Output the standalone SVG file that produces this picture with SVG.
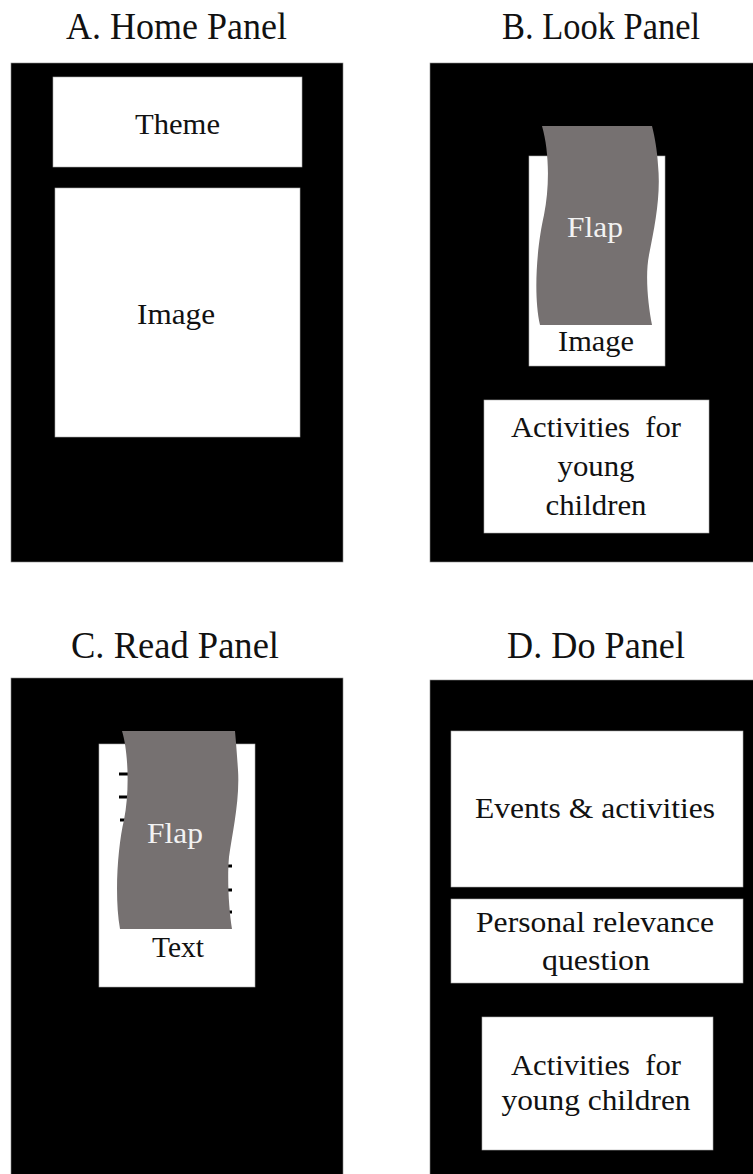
<svg xmlns="http://www.w3.org/2000/svg" width="753" height="1174" viewBox="0 0 753 1174" font-family="Liberation Serif, Times New Roman, serif">
<style>
.title{font-size:37px;fill:#111;text-anchor:middle}
.lbl{font-size:29px;fill:#111;text-anchor:middle}
.flaptxt{font-size:30px;fill:#f2f2f2;text-anchor:middle}
.panel{fill:#000;stroke:#888;stroke-width:0.6}
.box{fill:#fff;stroke:#aaa;stroke-width:0.6}
.flap{fill:#767171}
.tick{stroke:#000;stroke-width:3}
</style>
<rect width="753" height="1174" fill="#fff"/>

<g id="panelA">
<text class="title" x="176.5" y="39" textLength="221" lengthAdjust="spacingAndGlyphs">A. Home Panel</text>
<rect class="panel" x="11" y="63" width="332" height="499"/>
<g id="A-theme"><rect class="box" x="53" y="77" width="249" height="90"/><text class="lbl" x="177.5" y="134" textLength="85" lengthAdjust="spacingAndGlyphs">Theme</text></g>
<g id="A-image"><rect class="box" x="55" y="188" width="245" height="249"/><text class="lbl" x="176" y="324" textLength="78" lengthAdjust="spacingAndGlyphs">Image</text></g>
</g>

<g id="panelB">
<text class="title" x="601" y="39" textLength="198" lengthAdjust="spacingAndGlyphs">B. Look Panel</text>
<rect class="panel" x="430" y="63" width="325" height="499"/>
<g id="B-image"><rect class="box" x="529" y="156" width="136" height="210"/><text class="lbl" x="596" y="351" textLength="76" lengthAdjust="spacingAndGlyphs">Image</text></g>
<g id="B-flap"><path class="flap" d="M542,126 C549,150 550,185 544,215 C537,245 533,295 540,325 L652,325 C648,305 645,275 649,255 C655,225 661,195 658,165 C657,150 655,138 652,126 Z"/><text class="flaptxt" x="595" y="237" textLength="56" lengthAdjust="spacingAndGlyphs">Flap</text></g>
<g id="B-activities"><rect class="box" x="484" y="400" width="225" height="133"/>
<text class="lbl" x="596" y="437" xml:space="preserve" textLength="170" lengthAdjust="spacingAndGlyphs">Activities  for</text>
<text class="lbl" x="596" y="476" textLength="77" lengthAdjust="spacingAndGlyphs">young</text>
<text class="lbl" x="596" y="515" textLength="101" lengthAdjust="spacingAndGlyphs">children</text></g>
</g>

<g id="panelC">
<text class="title" x="175" y="658" textLength="208" lengthAdjust="spacingAndGlyphs">C. Read Panel</text>
<rect class="panel" x="11" y="678" width="332" height="500"/>
<g id="C-text"><rect class="box" x="99" y="744" width="156" height="243"/>
<line class="tick" x1="119" y1="774" x2="132" y2="774"/>
<line class="tick" x1="119" y1="797" x2="132" y2="797"/>
<line class="tick" x1="120" y1="820" x2="132" y2="820"/>
<line class="tick" x1="218" y1="866" x2="232" y2="866"/>
<line class="tick" x1="218" y1="890" x2="232" y2="890"/>
<line class="tick" x1="218" y1="912" x2="232" y2="912"/>
<text class="lbl" x="178" y="957" textLength="52" lengthAdjust="spacingAndGlyphs">Text</text></g>
<g id="C-flap"><path class="flap" d="M122,731 C128,750 130,790 124,820 C118,845 114,895 120,929 L232,929 C229,910 227,880 229,857 C232,835 240,800 238,770 C237,755 236,742 235,731 Z"/><text class="flaptxt" x="175" y="843" textLength="56" lengthAdjust="spacingAndGlyphs">Flap</text></g>
</g>

<g id="panelD">
<text class="title" x="596" y="658" textLength="178" lengthAdjust="spacingAndGlyphs">D. Do Panel</text>
<rect class="panel" x="430" y="680" width="325" height="498"/>
<g id="D-events"><rect class="box" x="451" y="731" width="292" height="156"/><text class="lbl" x="595" y="818" textLength="240" lengthAdjust="spacingAndGlyphs">Events &amp; activities</text></g>
<g id="D-personal"><rect class="box" x="451" y="899" width="292" height="84"/>
<text class="lbl" x="595" y="932" textLength="238" lengthAdjust="spacingAndGlyphs">Personal relevance</text>
<text class="lbl" x="596" y="970" textLength="108" lengthAdjust="spacingAndGlyphs">question</text></g>
<g id="D-activities"><rect class="box" x="482" y="1017" width="231" height="133"/>
<text class="lbl" x="596" y="1075" xml:space="preserve" textLength="170" lengthAdjust="spacingAndGlyphs">Activities  for</text>
<text class="lbl" x="596" y="1110" textLength="189" lengthAdjust="spacingAndGlyphs">young children</text></g>
</g>

<g id="connectors"></g>
</svg>
